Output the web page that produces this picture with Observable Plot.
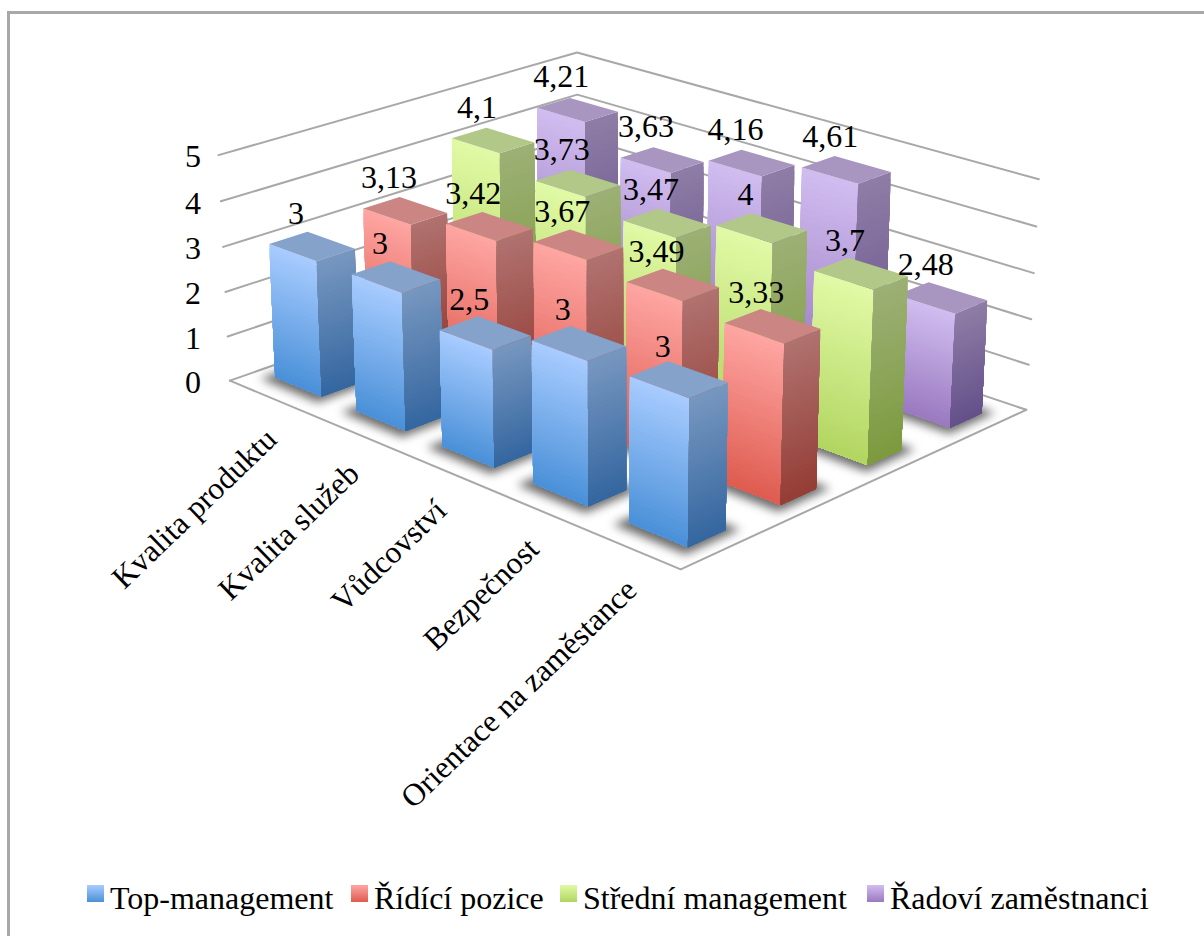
<!DOCTYPE html>
<html lang="cs">
<head>
<meta charset="utf-8">
<script src="https://cdn.jsdelivr.net/npm/d3@7"></script>
<script src="https://cdn.jsdelivr.net/npm/@observablehq/plot@0.6"></script>
<style>
  html, body { margin: 0; padding: 0; background: #fff; }
  #page { position: relative; width: 1204px; height: 936px; overflow: hidden; font-family: "Liberation Serif", serif; }
  #frame { position: absolute; left: 7px; top: 11px; width: 1300px; height: 1000px; border: 3px solid #a8a8a8; box-sizing: border-box; }
  #chart { position: absolute; left: 0; top: 0; }
  #legend { position: absolute; left: 0; top: 878px; width: 1204px; height: 40px; font-size: 32px; line-height: 40px; color: #000; white-space: nowrap; }
  #legend .item { position: absolute; top: 0; display: flex; align-items: flex-start; }
  #legend .swatch { width: 17px; height: 17px; margin: 7px 6px 0 0; }
</style>
</head>
<body>
<div id="page"><div id="frame"></div><div id="chart"></div><div id="legend"></div></div>
<script>
const categories = ["Kvalita produktu", "Kvalita služeb", "Vůdcovství", "Bezpečnost", "Orientace na zaměstance"];
const seriesNames = ["Top-management", "Řídící pozice", "Střední management", "Řadoví zaměstnanci"];
const topManagement = [3, 3, 2.5, 3, 3];
const ridiciPozice = [3.13, 3.42, 3.67, 3.49, 3.33];
const stredniManagement = [4.1, 3.73, 3.47, 4, 3.7];
const radoviZamestnanci = [4.21, 3.63, 4.16, 4.61, 2.48];
const seriesValues = [topManagement, ridiciPozice, stredniManagement, radoviZamestnanci];
const valueTicks = [0, 1, 2, 3, 4, 5];

// Face colours per series: front face top/bottom, side face top/bottom, cap
const palette = [
  {front: ["#a8ccff", "#4a90d8"], side: ["#7797bf", "#34669f"], cap: "#84a2ca"},
  {front: ["#ffa6a3", "#de5b4f"], side: ["#b07270", "#943d35"], cap: "#cb8583"},
  {front: ["#e1faa6", "#b2d561"], side: ["#9db076", "#7c9a3e"], cap: "#b2c888"},
  {front: ["#d1bdf0", "#9a79c0"], side: ["#8f7da6", "#64508a"], cap: "#a895c0"}
];
const legendLeft = [87, 351, 560, 867];

const W = 1204, H = 870;
const nCat = categories.length, nSer = seriesNames.length, maxTick = 5;
const gapCat = 0.21, gapSer = 0.3, bands = 32;

// Camera: anchor points of the plot box on the page, fitted to a 3x4 projection
const L = [[230,380],[227,336],[225,292],[222.7,246.7],[220,200.7],[218,154]];
const R = [[1026,409],[1028.6,364],[1031,319],[1033,272.7],[1035.7,226],[1038,179]];
const B = [[577,258],[577,218],[577,177],[577,136],[577,94],[577,52]];
const anchors = [[nCat,0,0,680,569]];
for (let h = 0; h <= maxTick; h++) {
  anchors.push([0,0,h,...L[h]], [nCat,nSer,h,...R[h]], [0,nSer,h,...B[h]]);
}

function fitCamera(pts) {
  const n = 11, A = Array.from({length:n},()=>new Array(n+1).fill(0));
  const add = (row, rhs) => {
    for (let i=0;i<n;i++){ for(let j=0;j<n;j++) A[i][j]+=row[i]*row[j]; A[i][n]+=row[i]*rhs; }
  };
  for (const [u,v,h,x,y] of pts) {
    add([u,v,h,1,0,0,0,0,-x*u,-x*v,-x*h], x);
    add([0,0,0,0,u,v,h,1,-y*u,-y*v,-y*h], y);
  }
  for (let c=0;c<n;c++){
    let p=c; for(let r=c+1;r<n;r++) if(Math.abs(A[r][c])>Math.abs(A[p][c])) p=r;
    [A[c],A[p]]=[A[p],A[c]];
    for(let r=0;r<n;r++){ if(r===c) continue; const f=A[r][c]/A[c][c]; for(let k=c;k<=n;k++) A[r][k]-=f*A[c][k]; }
  }
  return A.map((row,i)=>row[n]/row[i]);
}
const P = fitCamera(anchors);
const project = (u,v,h) => {
  const w = P[8]*u+P[9]*v+P[10]*h+1;
  return [(P[0]*u+P[1]*v+P[2]*h+P[3])/w, (P[4]*u+P[5]*v+P[6]*h+P[7])/w];
};

// Polygon rows: one row per vertex, grouped by id, painted in insertion order
const polys = [];
let pid = 0;
const addPoly = (verts, color) => {
  const id = pid++;
  for (const [u,v,h] of verts) { const [x,y] = project(u,v,h); polys.push({id,x,y,color}); }
};

const shadows = [];
seriesValues.forEach((vals,s) => vals.forEach((_,c) => {
  const u0=c+gapCat-0.07,u1=c+1-gapCat+0.07,v0=s+gapSer-0.1,v1=s+1-gapSer+0.08;
  const id=`${s}-${c}`;
  for (const [u,v] of [[u0,v0],[u1,v0],[u1,v1],[u0,v1]]) { const [x,y]=project(u,v,0); shadows.push({id,x,y}); }
}));

// Painted from the back row forward so nearer bars cover farther ones.
// Each band runs down to the floor and the next one paints over it, so no seams show.
for (let s=nSer-1;s>=0;s--) for (let c=0;c<nCat;c++) {
  const val = seriesValues[s][c], pal = palette[s];
  const u0=c+gapCat,u1=c+1-gapCat,v0=s+gapSer,v1=s+1-gapSer;
  const fc=d3.interpolateRgb(...pal.front), sc=d3.interpolateRgb(...pal.side);
  for (let b=0;b<bands;b++){
    const t0=val*(1-b/bands), col=(b+.5)/bands;
    addPoly([[u0,v0,t0],[u1,v0,t0],[u1,v0,0],[u0,v0,0]], fc(col));
  }
  for (let b=0;b<bands;b++){
    const t0=val*(1-b/bands), col=(b+.5)/bands;
    addPoly([[u1,v0,t0],[u1,v1,t0],[u1,v1,0],[u1,v0,0]], sc(col));
  }
  addPoly([[u0,v0,val],[u1,v0,val],[u1,v1,val],[u0,v1,val]], pal.cap);
}

const gridLines = [];
valueTicks.forEach(h => {
  for (const [u,v] of [[0,0],[0,nSer],[nCat,nSer]]) { const [x,y]=project(u,v,h); gridLines.push({id:`g${h}`,x,y}); }
});
for (const [u,v] of [[0,0],[nCat,0],[nCat,nSer]]) { const [x,y]=project(u,v,0); gridLines.push({id:"floor",x,y}); }

const barLabels = seriesValues.flatMap((vals,s)=>vals.map((val,c)=>{
  const [x,y]=project(c+.5,s+.5,val);
  return {x,y,text:String(val).replace(".",",")};
}));
// Value labels share one right-aligned column left of the box corner
const tickColumn = project(0,0,0)[0]-29;
const tickLabels = valueTicks.map(h=>({x:tickColumn,y:project(0,0,h)[1],text:String(h)}));
const catLabels = categories.map((text,c)=>{const [x,y]=project(c+.5,0,0);return {x,y,text};});

const fontFamily = '"Liberation Serif", serif';
const chart = Plot.plot({
  width: W, height: H, margin: 0,
  x: {domain:[0,W], range:[0,W], axis:null},
  y: {domain:[0,H], range:[0,H], axis:null},
  color: {type:"identity"},
  style: {background:"transparent", overflow:"visible"},
  marks: [
    Plot.line(gridLines, {x:"x", y:"y", z:"id", stroke:"#a8a8a8", strokeWidth:2}),
    Plot.line(shadows, {x:"x", y:"y", z:"id", fill:"#3c3c3c", stroke:"none", fillOpacity:.75, imageFilter:"blur(5px)"}),
    Plot.line(polys, {x:"x", y:"y", z:"id", fill:"color", stroke:"none"}),
    Plot.text(barLabels, {x:"x", y:"y", text:"text", dx:-16, dy:-33, fontSize:32, fontFamily, fill:"#000"}),
    Plot.text(tickLabels, {x:"x", y:"y", text:"text", dy:2, textAnchor:"end", fontSize:32, fontFamily, fill:"#000"}),
    Plot.text(catLabels, {x:"x", y:"y", text:"text", dx:2, dy:37, rotate:-44, textAnchor:"end", fontSize:31.5, fontFamily, fill:"#000"})
  ]
});
document.getElementById("chart").append(chart);

const legend = document.getElementById("legend");
seriesNames.forEach((name,i)=>{
  const item=document.createElement("div"); item.className="item"; item.style.left=`${legendLeft[i]}px`;
  const sw=document.createElement("span"); sw.className="swatch";
  sw.style.background=`linear-gradient(${palette[i].front[0]},${palette[i].front[1]})`;
  const label=document.createElement("span"); label.textContent=name;
  item.append(sw,label); legend.append(item);
});
</script>
</body>
</html>
